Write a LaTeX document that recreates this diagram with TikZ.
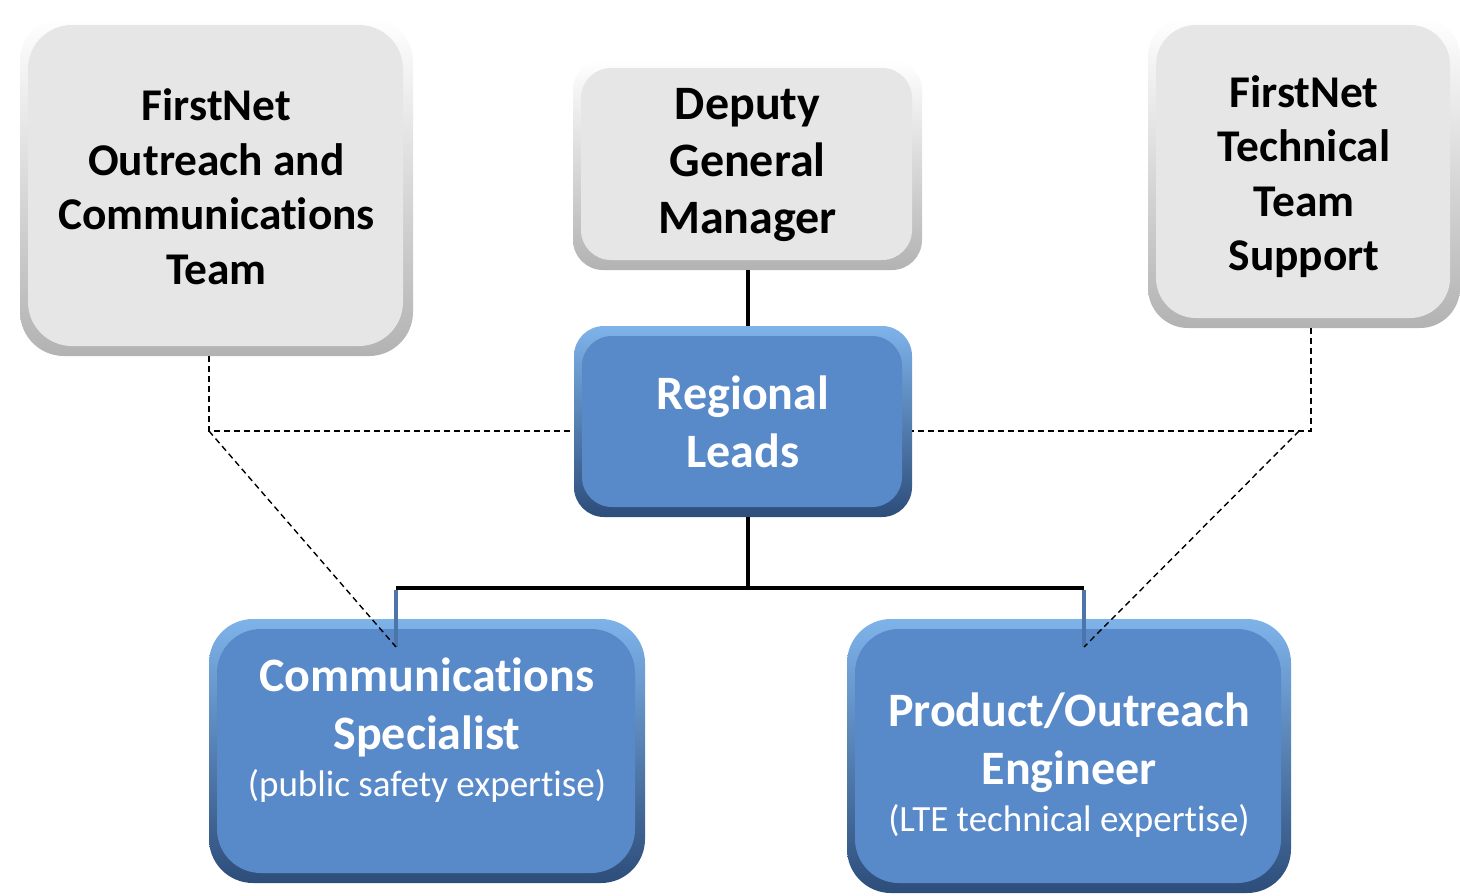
\documentclass[tikz,border=0pt]{standalone}
\usepackage{fontspec}
\setmainfont{Carlito}[Ligatures=NoCommon]
\usepackage{xcolor}

\definecolor{boxgray}{HTML}{E6E6E6}
\definecolor{boxblue}{HTML}{5889C9}
\definecolor{blueedge}{HTML}{7EB3EA}
\definecolor{bluedark}{HTML}{2D4D7A}

\newcommand\subtextfont{\mdseries\fontsize{18.5}{22}\selectfont}

\tikzset{
  graybox/.style={rounded corners=#1, draw=none, top color=white, bottom color=gray!60,
    align=center, text=black, font=\bfseries\fontsize{22.7}{27.25}\selectfont,
    path picture={\fill[boxgray, rounded corners=#1]
      ([shift={(4pt,-4pt)}]path picture bounding box.north west) rectangle
      ([shift={(-5pt,5pt)}]path picture bounding box.south east);}},
  bluebox/.style={rounded corners=#1, draw=none, top color=blueedge, bottom color=bluedark,
    align=center, text=white, font=\bfseries\fontsize{24}{29}\selectfont,
    path picture={\fill[boxblue, rounded corners=#1]
      ([shift={(4pt,-5pt)}]path picture bounding box.north west) rectangle
      ([shift={(-5pt,5pt)}]path picture bounding box.south east);}},
  solidline/.style={line width=2pt, black},
  blueline/.style={line width=2pt, boxblue!85!black},
  dashline/.style={line width=0.7pt, dash pattern=on 3pt off 2pt},
}

\begin{document}
\begin{tikzpicture}[x=0.5pt, y=-0.5pt]
\useasboundingbox (0,0) rectangle (1460,895);

% upper row
\node[graybox=22pt, minimum width=196.5pt, minimum height=169.5pt] (outreach) at (216.5,186.5)
  {FirstNet\\Outreach and\\Communications\\Team};
\node[graybox=15pt, minimum width=174.5pt, minimum height=105pt,
  font=\bfseries\fontsize{24}{28.5}\selectfont] (dgm) at (747.5,165)
  {Deputy\\General\\Manager};
\node[graybox=20pt, minimum width=156pt, minimum height=155.5pt] (techteam) at (1304,172.5)
  {\rule{0pt}{20pt}FirstNet\\Technical\\Team\\Support};

% middle
\node[bluebox=15pt, minimum width=169pt, minimum height=95.5pt] (regional) at (743,421.5)
  {Regional\\Leads};

% lower row
\node[bluebox=22pt, minimum width=218pt, minimum height=132pt, text depth=24pt] (commspec) at (427,751)
  {Communications\\Specialist\\[-5.5pt]{\subtextfont(public safety expertise)}};
\node[bluebox=22pt, minimum width=222pt, minimum height=137pt] (engineer) at (1069,756)
  {\rule{0pt}{26pt}Product/Outreach\\Engineer\\[-5.5pt]{\subtextfont(LTE technical expertise)}};

% joints
\coordinate (hub) at (748,588);
\coordinate (busl) at (396,588);
\coordinate (busr) at (1084,588);
\coordinate (csdrop) at (396,647);
\coordinate (pedrop) at (1084,647);
\coordinate (ljoin) at (209,431);
\coordinate (rjoin) at (1311,431);

% reporting lines
\draw[solidline] (dgm.south -| hub) -- (regional.north -| hub);
\draw[solidline] (regional.south -| hub) -- (hub);
\draw[solidline] (busl) -- (busr);
\draw[blueline] ([yshift=-1pt]busl) -- (csdrop);
\draw[blueline] ([yshift=-1pt]busr) -- (pedrop);

% support lines
\draw[dashline] (ljoin |- outreach.south) -- (ljoin) -- (regional.west |- ljoin);
\draw[dashline] (ljoin) -- (csdrop);
\draw[dashline] (rjoin |- techteam.south) -- (rjoin) -- (regional.east |- rjoin);
\draw[dashline] ([xshift=-6]rjoin) -- (pedrop);

\end{tikzpicture}
\end{document}
